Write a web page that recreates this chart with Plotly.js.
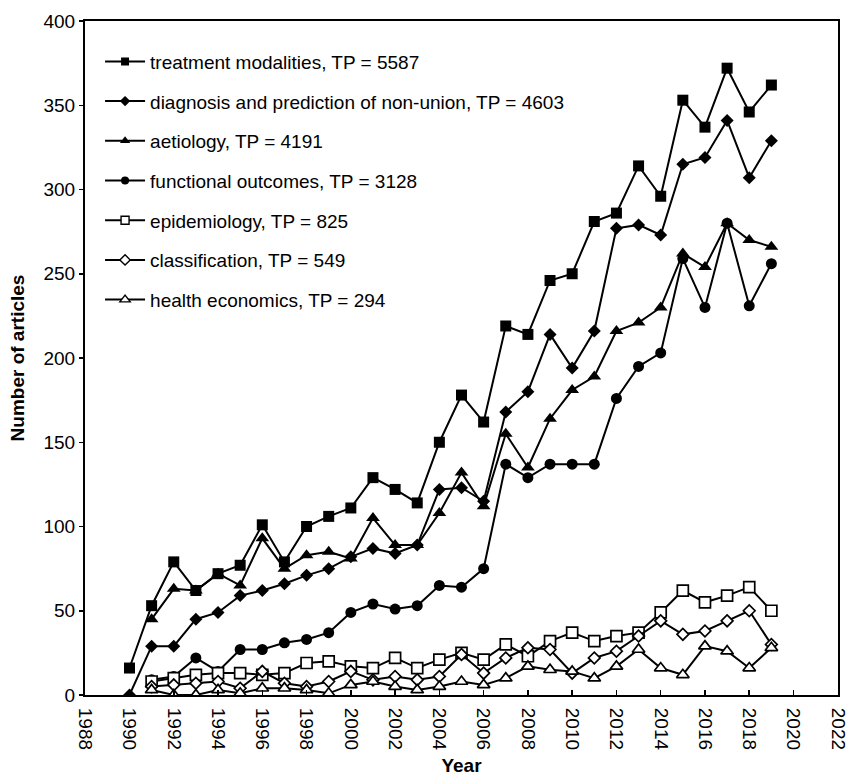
<!DOCTYPE html>
<html>
<head>
<meta charset="utf-8">
<script src="https://cdn.plot.ly/plotly-3.0.1.min.js"></script>
<style>html,body{margin:0;padding:0;background:#fff;}#chart{width:847px;height:777px;}</style>
</head>
<body>
<div id="chart"></div>
<script>
const years = [1990,1991,1992,1993,1994,1995,1996,1997,1998,1999,2000,2001,2002,2003,2004,2005,2006,2007,2008,2009,2010,2011,2012,2013,2014,2015,2016,2017,2018,2019];
const yearsFrom1991 = years.slice(1);
const xTicks = [1988,1990,1992,1994,1996,1998,2000,2002,2004,2006,2008,2010,2012,2014,2016,2018,2020,2022];

const treatment = [16,53,79,62,72,77,101,79,100,106,111,129,122,114,150,178,162,219,214,246,250,281,286,314,296,353,337,372,346,362];
const diagnosis = [0,29,29,45,49,59,62,66,71,75,82,87,84,89,122,123,115,168,180,214,194,216,277,279,273,315,319,341,307,329];
const aetiology = [45,63,62,72,65,93,75,83,85,81,105,89,89,108,132,112,155,135,164,181,189,216,221,230,262,254,280,270,266];
const functional = [9,11,22,14,27,27,31,33,37,49,54,51,53,65,64,75,137,129,137,137,137,176,195,203,259,230,280,231,256];
const epidemiology = [8,10,12,13,13,12,13,19,20,17,16,22,16,21,25,21,30,23,32,37,32,35,37,49,62,55,59,64,50];
const classification = [5,6,7,8,4,14,7,5,8,14,9,11,9,11,24,13,22,28,27,13,22,26,35,44,36,38,44,50,30];
const healthEcon = [3,0,0,3,1,4,4,3,1,6,8,5,3,5,8,6,10,17,15,14,10,17,27,16,12,29,26,16,28];

const names = [
  "treatment modalities, TP = 5587",
  "diagnosis and prediction of non-union, TP = 4603",
  "aetiology, TP = 4191",
  "functional outcomes, TP = 3128",
  "epidemiology, TP = 825",
  "classification, TP = 549",
  "health economics, TP = 294"
];

const series = [
  {x: years, y: treatment, sym: 'square', size: 11, open: false},
  {x: years, y: diagnosis, sym: 'diamond', size: 10, open: false},
  {x: yearsFrom1991, y: aetiology, sym: 'triangle-up', size: 12, open: false},
  {x: yearsFrom1991, y: functional, sym: 'circle', size: 11, open: false},
  {x: yearsFrom1991, y: epidemiology, sym: 'square', size: 11, open: true},
  {x: yearsFrom1991, y: classification, sym: 'diamond', size: 9, open: true},
  {x: yearsFrom1991, y: healthEcon, sym: 'triangle-up', size: 11, open: true}
];

const data = [];
series.forEach(function (s, i) {
  data.push({
    x: s.x, y: s.y, name: names[i], type: 'scatter', mode: 'lines+markers',
    showlegend: false,
    line: {color: '#000', width: 2},
    marker: {symbol: s.sym, size: s.size, color: s.open ? '#fff' : '#000',
             line: {color: '#000', width: s.open ? 1.7 : 0}}
  });
});
// legend entries (smaller markers as in the reference legend)
series.forEach(function (s, i) {
  data.push({
    x: [null], y: [null], name: names[i], type: 'scatter', mode: 'lines+markers',
    legendgroup: 'g' + i, showlegend: true, hoverinfo: 'skip',
    line: {color: '#000', width: 2},
    marker: {symbol: s.sym, size: s.sym === 'triangle-up' ? 9 : 8,
             color: s.open ? '#fff' : '#000',
             line: {color: '#000', width: s.open ? 1.4 : 0}}
  });
});

const layout = {
  width: 847, height: 777,
  margin: {l: 85, r: 9, t: 21, b: 82},
  paper_bgcolor: '#fff', plot_bgcolor: '#fff',
  font: {family: 'Liberation Sans, Arial, sans-serif', size: 19, color: '#000'},
  showlegend: true,
  legend: {x: 0.02, y: 0.968, xanchor: 'left', yanchor: 'top', bgcolor: 'rgba(0,0,0,0)',
           font: {size: 19}, traceorder: 'grouped', tracegroupgap: 12, itemwidth: 40},
  xaxis: {range: [1987.99, 2022.01], tickvals: xTicks,
          showgrid: false, zeroline: false,
          showline: true, linecolor: '#000', linewidth: 2, mirror: true,
          ticks: 'inside', ticklen: 5, tickwidth: 1.5, tickcolor: '#000',
          tickangle: 90, tickfont: {size: 19}, ticklabeloverflow: 'allow', ticklabelstandoff: 7,
          title: {text: '<b>Year</b>', font: {size: 19}, standoff: 9}},
  yaxis: {range: [0, 400], dtick: 50, showgrid: false, zeroline: false,
          showline: true, linecolor: '#000', linewidth: 2, mirror: true,
          ticks: 'outside', ticklen: 4, tickwidth: 1.5, tickcolor: '#000',
          tickfont: {size: 19},
          title: {text: '<b>Number of articles</b>', font: {size: 19}, standoff: 14}}
};

Plotly.newPlot('chart', data, layout, {displayModeBar: false, staticPlot: true});
</script>
</body>
</html>
